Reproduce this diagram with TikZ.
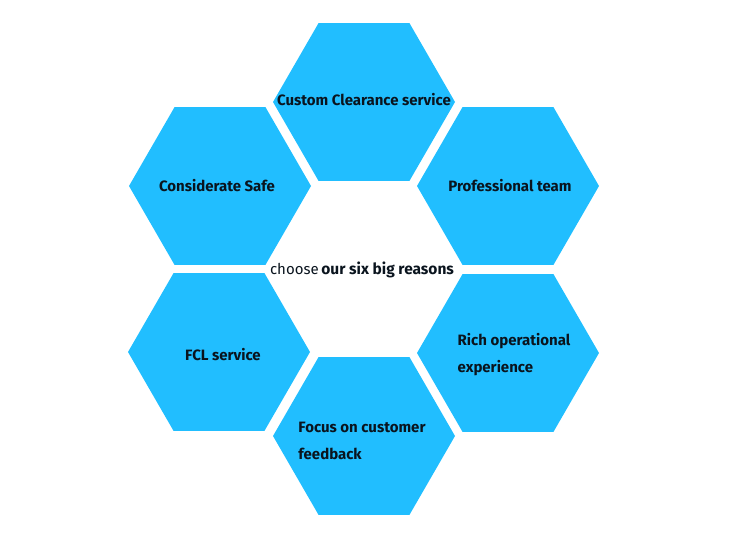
\documentclass[tikz,border=0pt]{standalone}
\usepackage{fontspec}
\setmainfont{Fira Sans}
\usetikzlibrary{shapes.geometric}
\definecolor{hexblue}{RGB}{33,190,255}
\definecolor{txt}{RGB}{10,20,30}
\begin{document}
\begin{tikzpicture}[x=1pt,y=-1pt,
  hexa/.style={regular polygon, regular polygon sides=6, minimum size=182pt, inner sep=0pt, outer sep=0pt, fill=hexblue},
  lbl/.style={text=txt, inner sep=0pt, font=\bfseries\fontsize{15}{27}\selectfont, align=left},
  centre/.style={text=txt, inner sep=0pt}]
\useasboundingbox (0,0) rectangle (750,559);
\node[hexa] (top) at (364,102) {};
\node[hexa] (ul) at (220,186) {};
\node[hexa] (ur) at (508,186) {};
\node[hexa] (ll) at (219,352) {};
\node[hexa] (lr) at (508,353) {};
\node[hexa] (bot) at (364,436) {};
\node[lbl] (ttop) at (364,100) {Custom Clearance service};
\node[lbl] (tul) at (217,186) {Considerate Safe};
\node[lbl] (tur) at (510,186) {Professional team};
\node[lbl] (tll) at (223,355) {FCL service};
\node[lbl] (tlr) at (514,355) {Rich operational\\experience};
\node[lbl] (tbot) at (362,441) {Focus on customer\\feedback};
\node[centre] (mid) at (362,270) {{\fontsize{15}{17}\selectfont choose} {\bfseries\fontsize{15.5}{17}\selectfont our six big reasons}};
\end{tikzpicture}
\end{document}
